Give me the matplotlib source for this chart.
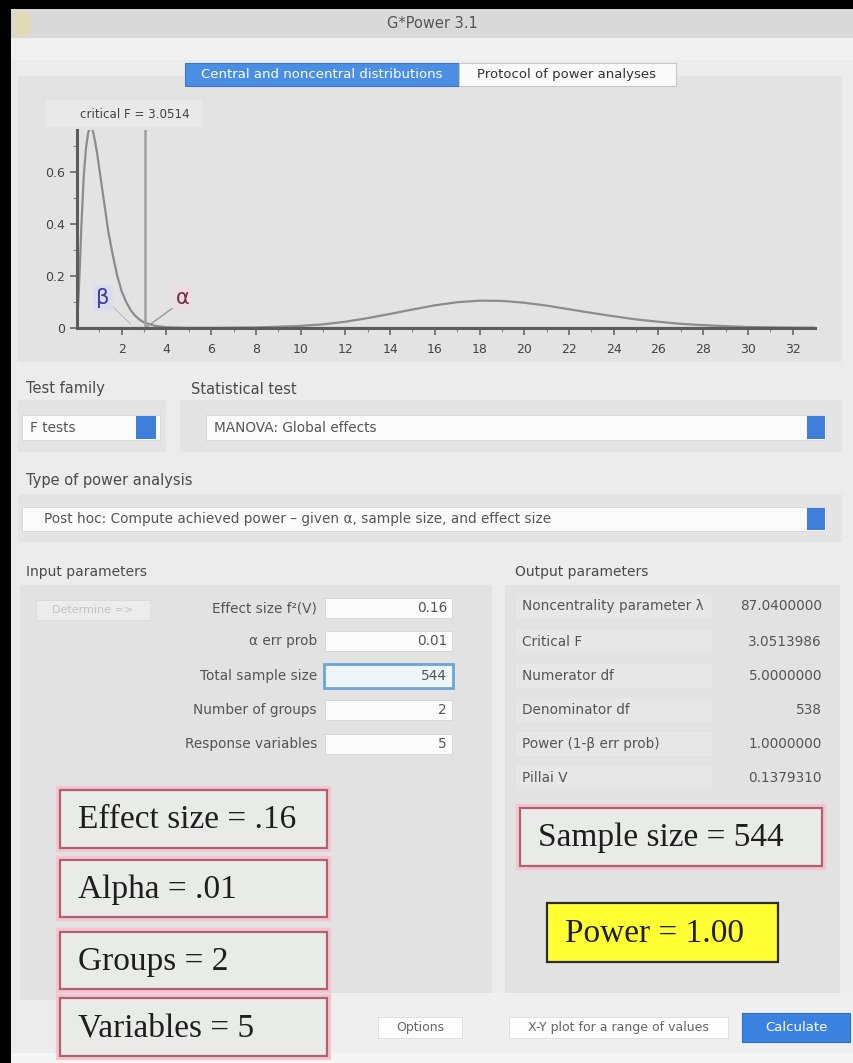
import matplotlib
matplotlib.use("Agg")
import matplotlib.pyplot as plt
from matplotlib.patches import Rectangle

# ---------------- data ----------------
central_F = [0, 0.1, 0.2, 0.3, 0.4, 0.5, 0.6, 0.7, 0.8, 0.9, 1.0, 1.2, 1.4, 1.6, 1.8,
             2.0, 2.2, 2.4, 2.6, 2.8, 3.0, 3.5, 4.0, 5.0, 6.0, 33]
central_density = [0, 0.18, 0.40, 0.58, 0.69, 0.75, 0.77, 0.76, 0.72, 0.67, 0.61, 0.49,
                   0.37, 0.28, 0.20, 0.14, 0.10, 0.068, 0.047, 0.032, 0.021, 0.008,
                   0.003, 0.0003, 0, 0]
noncentral_F = [0, 4, 6, 8, 10, 11, 12, 13, 14, 15, 16, 17, 18, 19, 20, 21, 22, 23, 24,
                25, 26, 27, 28, 29, 30, 31, 32, 33]
noncentral_density = [0, 0, 0.0003, 0.002, 0.008, 0.014, 0.024, 0.038, 0.054, 0.071,
                      0.087, 0.099, 0.105, 0.104, 0.097, 0.086, 0.072, 0.058, 0.045,
                      0.033, 0.024, 0.016, 0.011, 0.007, 0.004, 0.0025, 0.0014, 0.0008]
critical_F = 3.0514
x_ticks = [2, 4, 6, 8, 10, 12, 14, 16, 18, 20, 22, 24, 26, 28, 30, 32]
y_ticks = [0, 0.2, 0.4, 0.6]
y_tick_labels = ["0", "0.2", "0.4", "0.6"]

input_labels = ["Effect size f²(V)", "α err prob", "Total sample size",
                "Number of groups", "Response variables"]
input_values = ["0.16", "0.01", "544", "2", "5"]
output_labels = ["Noncentrality parameter λ", "Critical F", "Numerator df",
                 "Denominator df", "Power (1-β err prob)", "Pillai V"]
output_values = ["87.0400000", "3.0513986", "5.0000000", "538", "1.0000000", "0.1379310"]
left_notes = ["Effect size = .16", "Alpha = .01", "Groups = 2", "Variables = 5"]
sample_note = "Sample size = 544"
power_note = "Power = 1.00"

# ---------------- figure ----------------
W, H = 854, 1063
fig = plt.figure(figsize=(W / 100, H / 100), dpi=100)
ui = fig.add_axes([0, 0, 1, 1])
ui.set_xlim(0, W)
ui.set_ylim(H, 0)
ui.axis("off")

UI_FONT = "DejaVu Sans"
SERIF = "Liberation Serif"
UIS = 9.8  # general UI font size


def rect(x0, y0, x1, y1, fc="none", ec="none", lw=0, z=1, alpha=1.0):
    ui.add_patch(Rectangle((x0, y0), x1 - x0, y1 - y0, facecolor=fc, edgecolor=ec,
                           linewidth=lw, zorder=z, alpha=alpha))


def txt(x, y, s, size=UIS, color="#4a4a4a", ha="left", va="center", family=UI_FONT, z=5, **kw):
    ui.text(x, y, s, fontsize=size, color=color, ha=ha, va=va, family=family, zorder=z, **kw)


# window background
rect(0, 0, W, H, fc="#ececec", z=0)
# title bar + toolbar
rect(0, 9, W, 38, fc="#d9d9d9", z=1)
rect(0, 38, W, 60, fc="#f1f1f1", z=1)
rect(14, 12, 30, 36, fc="#e6d9a8", z=2, alpha=0.7)
txt(432, 23, "G*Power 3.1", size=10.5, color="#555", ha="center")

# plot panel
rect(18, 76, 842, 362, fc="#e3e3e3", z=1)
# tabs
rect(185, 63, 459, 86, fc="#4a8fe3", ec="#3a78cc", lw=0.8, z=3)
txt(322, 74.5, "Central and noncentral distributions", size=9.5, color="white", ha="center")
rect(459, 63, 676, 86, fc="#fafafa", ec="#c8c8c8", lw=0.8, z=3)
txt(567, 74.5, "Protocol of power analyses", size=9.5, color="#333", ha="center")
# critical F label box
rect(46, 100, 202, 127, fc="#e9e9e9", z=2)
txt(80, 114, "critical F = 3.0514", size=8.6, color="#444")

# ---------------- distribution plot ----------------
x0p, x1p, y0p, y1p = 77, 815, 328, 130
ax = fig.add_axes([x0p / W, 1 - y0p / H, (x1p - x0p) / W, (y0p - y1p) / H])
ax.set_facecolor("none")
ax.set_xlim(0, 33)
ax.set_ylim(0, 0.76)
ax.plot(central_F, central_density, color="#8c8c8c", lw=1.6, clip_on=True)
ax.plot(noncentral_F, noncentral_density, color="#8c8c8c", lw=1.6, clip_on=True)
ax.axvline(critical_F, color="#a0a0a0", lw=1.8, ymax=1.0)
ax.plot([critical_F, 4.25], [0.0, 0.075], color="#999", lw=1.0)
ax.plot([1.5, 2.4], [0.09, 0.015], color="#bbb", lw=0.8)
ax.text(1.15, 0.115, "β", fontsize=15, color="#3b3b9c", ha="center", va="center",
        bbox=dict(boxstyle="square,pad=0.15", fc="#dcdcf0", ec="none"))
ax.text(4.75, 0.115, "α", fontsize=15, color="#6a3444", ha="center", va="center",
        bbox=dict(boxstyle="square,pad=0.15", fc="#ecdde2", ec="none"))
for s in ["top", "right"]:
    ax.spines[s].set_visible(False)
for s in ["left", "bottom"]:
    ax.spines[s].set_color("#5c5c5c")
    ax.spines[s].set_linewidth(2.2)
ax.set_xticks(x_ticks)
ax.set_xticks(list(range(1, 33, 2)), minor=True)
ax.set_yticks(y_ticks)
ax.set_yticklabels(y_tick_labels)
ax.set_yticks([0.1, 0.3, 0.5, 0.7], minor=True)
ax.tick_params(axis="both", which="major", length=5, width=1.2, color="#666",
               labelsize=9, labelcolor="#444")
ax.tick_params(axis="both", which="minor", length=3, width=0.8, color="#888")
ax.tick_params(axis="x", pad=6)
for lab in ax.get_xticklabels() + ax.get_yticklabels():
    lab.set_family(UI_FONT)

# ---------------- test selection ----------------
txt(26, 389, "Test family", size=10.5)
txt(191, 389, "Statistical test", size=10.5)
rect(18, 400, 166, 452, fc="#e4e4e4", z=1)
rect(180, 400, 842, 452, fc="#e4e4e4", z=1)
rect(22, 415, 160, 440, fc="#fbfbfb", ec="#d6d6d6", lw=0.6, z=2)
txt(30, 427.5, "F tests", color="#555")
rect(136, 416, 156, 439, fc="#3f7fd9", z=3)
rect(206, 415, 826, 440, fc="#fbfbfb", ec="#d6d6d6", lw=0.6, z=2)
txt(214, 427.5, "MANOVA: Global effects", color="#555")
rect(807, 416, 825, 439, fc="#3f7fd9", z=3)

txt(26, 481, "Type of power analysis", size=10.5)
rect(18, 494, 842, 542, fc="#e4e4e4", z=1)
rect(22, 507, 826, 531, fc="#fbfbfb", ec="#d6d6d6", lw=0.6, z=2)
txt(44, 519, "Post hoc: Compute achieved power – given α, sample size, and effect size",
    color="#555")
rect(807, 508, 825, 530, fc="#3f7fd9", z=3)

# ---------------- input / output groups ----------------
txt(26, 572, "Input parameters", size=10)
txt(515, 572, "Output parameters", size=10)
rect(20, 585, 492, 1000, fc="#e2e2e2", z=1)
rect(505, 585, 840, 1000, fc="#e2e2e2", z=1)
rect(36, 600, 150, 620, fc="#ececec", ec="#dadada", lw=0.6, z=2)
txt(93, 610, "Determine =>", size=8, color="#c4c4c4", ha="center")

input_rows = [608, 641, 676, 710, 744]
for lab, val, yy in zip(input_labels, input_values, input_rows):
    txt(317, yy, lab, ha="right", color="#555")
    if lab == "Total sample size":
        rect(324, yy - 12, 453, yy + 12, fc="#eef6fb", ec="#6ea3d8", lw=2, z=3)
    else:
        rect(325, yy - 10, 452, yy + 10, fc="#fcfcfc", ec="#d4d4d4", lw=0.6, z=2)
    txt(447, yy, val, ha="right", color="#555")

output_rows = [606, 642, 676, 710, 744, 778]
for lab, val, yy in zip(output_labels, output_values, output_rows):
    rect(516, yy - 12, 712, yy + 12, fc="#e7e7e7", z=2)
    txt(522, yy, lab, color="#555")
    txt(822, yy, val, ha="right", color="#555")

# ---------------- bottom button bar ----------------
rect(330, 993, W, H, fc="#efefef", z=1)
rect(0, 1053, W, H, fc="#f5f5f5", z=1)
rect(378, 1017, 462, 1038, fc="#fdfdfd", ec="#dcdcdc", lw=0.6, z=2)
txt(420, 1027.5, "Options", size=9, ha="center", color="#666")
rect(509, 1017, 728, 1038, fc="#fdfdfd", ec="#dcdcdc", lw=0.6, z=2)
txt(618, 1027.5, "X-Y plot for a range of values", size=9, ha="center", color="#666")
rect(742, 1013, 850, 1042, fc="#3b82e0", ec="#2f6fc6", lw=0.8, z=2)
txt(796, 1027.5, "Calculate", size=9.5, ha="center", color="white")


# ---------------- annotation boxes ----------------
def note_box(x0, y0, x1, y1, s, fc="#e9ebe8", ec="#b06070", glow=True, size=24):
    if glow:
        rect(x0 - 2, y0 - 2, x1 + 2, y1 + 2, fc="none", ec="#f4c4d0", lw=3, z=6)
    rect(x0, y0, x1, y1, fc=fc, ec=ec, lw=1.6, z=7)
    txt(x0 + 18, (y0 + y1) / 2 + 1, s, size=size, color="#1e1e1e", family=SERIF, z=8)


left_boxes = [(60, 790, 327, 848), (60, 860, 327, 917), (60, 932, 327, 989), (60, 998, 327, 1056)]
for (bx0, by0, bx1, by1), s in zip(left_boxes, left_notes):
    note_box(bx0, by0, bx1, by1, s)
note_box(520, 808, 822, 866, sample_note)
note_box(547, 903, 778, 962, power_note, fc="#ffff33", ec="#2c2c2c", glow=False)

# black screenshot borders
rect(0, 0, W, 9, fc="black", z=20)
rect(0, 0, 11, H, fc="black", z=20)

fig.savefig("out.png", dpi=100)
